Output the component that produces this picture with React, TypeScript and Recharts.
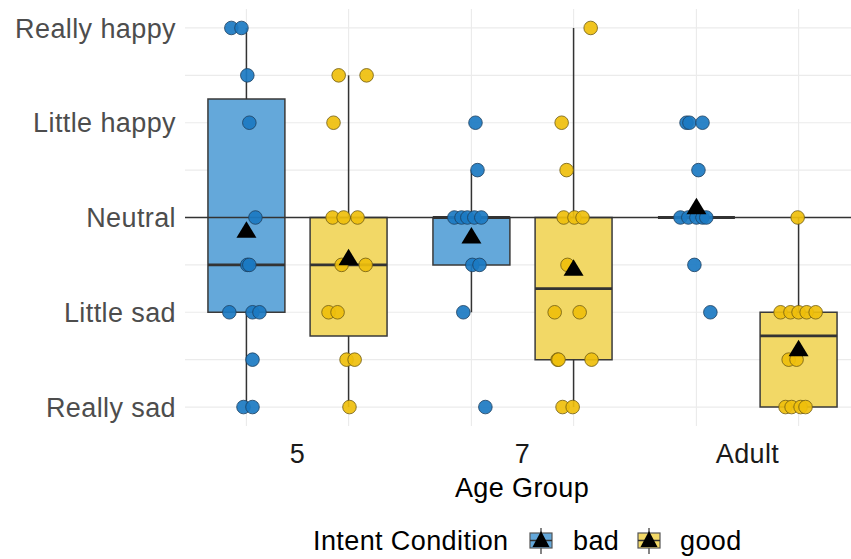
import { ComposedChart, Scatter, XAxis, YAxis, CartesianGrid, ReferenceArea, ReferenceLine } from 'recharts'

const AGE_GROUPS = ['5', '7', 'Adult']
const MOOD_LABELS = ['Really sad', 'Little sad', 'Neutral', 'Little happy', 'Really happy']
const MOOD_TICKS = [1, 2, 3, 4, 5]
const GRID_LEVELS = [1, 1.5, 2, 2.5, 3, 3.5, 4, 4.5, 5]

// ratings per age group + the horizontal jitter seen in the plot
const badScores = [
  [5, 5, 4.5, 4, 3, 2.5, 2.5, 2, 2, 2, 1.5, 1, 1],
  [4, 3.5, 3, 3, 3, 3, 3, 2.5, 2.5, 2, 1],
  [4, 4, 4, 3.5, 3, 3, 3, 3, 3, 2.5, 2],
]
const badJitter = [
  [-0.067, -0.022, 0.004, 0.013, 0.04, 0.004, 0.013, -0.076, 0.027, 0.058, 0.027, -0.013, 0.027],
  [0.018, 0.027, -0.076, -0.044, -0.018, 0.013, 0.044, 0.004, 0.036, -0.036, 0.062],
  [-0.044, -0.031, 0.027, 0.009, -0.071, -0.036, 0, 0.027, 0.044, -0.009, 0.062],
]
const goodScores = [
  [4.5, 4.5, 4, 3, 3, 3, 2.5, 2.5, 2, 2, 1.5, 1.5, 1],
  [5, 4, 3.5, 3, 3, 3, 2.5, 2, 2, 1.5, 1.5, 1.5, 1, 1],
  [3, 2, 2, 2, 2, 2, 1.5, 1.5, 1, 1, 1, 1],
]
const goodJitter = [
  [-0.044, 0.08, -0.067, -0.071, -0.022, 0.04, -0.031, 0.076, -0.089, -0.049, -0.009, 0.027, 0.004],
  [0.076, -0.053, -0.031, -0.044, 0.004, 0.04, -0.027, -0.084, 0.027, -0.071, -0.067, 0.08, -0.049, -0.004],
  [-0.004, -0.08, -0.036, 0, 0.036, 0.076, -0.044, -0.009, -0.058, -0.031, 0.009, 0.031],
]

// box stats
const badQ1 = [2, 2.5, 3]
const badMedian = [2.5, 3, 3]
const badQ3 = [4.25, 3, 3]
const badLow = [1, 2, 3]
const badHigh = [5, 3.5, 3]
const badMean = [2.87, 2.81, 3.12]

const goodQ1 = [1.75, 1.5, 1]
const goodMedian = [2.5, 2.25, 1.75]
const goodQ3 = [3, 3, 2]
const goodLow = [1, 1, 1]
const goodHigh = [4.5, 5, 3]
const goodMean = [2.58, 2.47, 1.62]

const DODGE = 0.227
const HALF_BOX = 0.171
const FONT = '"Liberation Sans", Arial, sans-serif'
const FS = 27
const LS = 0.4

const CONDITIONS = [
  { name: 'bad', side: -1, scores: badScores, jitter: badJitter, q1: badQ1, med: badMedian, q3: badQ3, lo: badLow, hi: badHigh, mean: badMean,
    box: '#64a8da', point: '#1b79c2', pointStroke: '#1d3f5e' },
  { name: 'good', side: 1, scores: goodScores, jitter: goodJitter, q1: goodQ1, med: goodMedian, q3: goodQ3, lo: goodLow, hi: goodHigh, mean: goodMean,
    box: '#f2d866', point: '#efbf0c', pointStroke: '#6e5a12' },
]

const centerX = (g: number, side: number) => g + 1 + side * DODGE
const boxCenters = CONDITIONS.flatMap(c => AGE_GROUPS.map((_, g) => centerX(g, c.side))).sort((a, b) => a - b)

function Dot(props: any) {
  const { cx, cy, fill, stroke } = props
  if (cx == null || cy == null) return null
  return <circle cx={cx} cy={cy} r={6.8} fill={fill} stroke={stroke} strokeWidth={0.8} fillOpacity={0.92} />
}

function MeanTriangle(props: any) {
  const { cx, cy } = props
  if (cx == null || cy == null) return null
  return <polygon points={`${cx},${cy - 8.5} ${cx - 10},${cy + 8} ${cx + 10},${cy + 8}`} fill="#000" />
}

function LegendKey({ color }: { color: string }) {
  return (
    <svg width={24} height={26} style={{ display: 'block' }}>
      <line x1={12} y1={0} x2={12} y2={26} stroke="#333" strokeWidth={1.2} />
      <rect x={1} y={5} width={22} height={15} fill={color} stroke="#555" strokeWidth={1.2} />
      <line x1={1} y1={12.5} x2={23} y2={12.5} stroke="#333" strokeWidth={1.5} />
      <polygon points="12,3 3.5,19 20.5,19" fill="#000" />
    </svg>
  )
}

const legendText = { position: 'absolute' as const, top: 0, lineHeight: '30px', letterSpacing: LS }

export default function App() {
  return (
    <div style={{ position: 'absolute', left: 0, top: 0, width: 851, height: 559, background: '#fff', fontFamily: FONT }}>
      <ComposedChart width={851} height={559} margin={{ top: 9, right: 0, bottom: 53, left: 0 }}>
        <CartesianGrid stroke="#ebebeb" strokeWidth={1.2} horizontalValues={GRID_LEVELS} verticalValues={boxCenters} />
        <XAxis type="number" dataKey="x" domain={[0.5, 3.46]} allowDataOverflow ticks={[1, 2, 3]}
          tickFormatter={v => AGE_GROUPS[v - 1]} tickLine={false} axisLine={false} tickSize={6} tickMargin={12} height={80}
          tick={{ fontSize: FS, fill: '#1a1a1a', fontFamily: FONT, letterSpacing: LS }}
          label={{ value: 'Age Group', position: 'insideBottom', offset: 9, fontSize: FS, fill: '#000', fontFamily: FONT, dx: 4, letterSpacing: LS }} />
        <YAxis type="number" dataKey="y" domain={[0.8, 5.2]} allowDataOverflow ticks={MOOD_TICKS}
          tickFormatter={v => MOOD_LABELS[v - 1]} tickLine={false} axisLine={false} tickSize={6} tickMargin={3} width={185}
          tick={{ fontSize: FS, fill: '#4d4d4d', fontFamily: FONT, letterSpacing: LS }} />

        {/* boxes */}
        {CONDITIONS.flatMap(c => AGE_GROUPS.map((_, g) => c.q3[g] > c.q1[g] ? (
          <ReferenceArea key={`box-${c.name}-${g}`} x1={centerX(g, c.side) - HALF_BOX} x2={centerX(g, c.side) + HALF_BOX}
            y1={c.q1[g]} y2={c.q3[g]} fill={c.box} fillOpacity={1} stroke="#3a3a3a" strokeWidth={1.5} strokeOpacity={1} />
        ) : null))}
        {/* whiskers */}
        {CONDITIONS.flatMap(c => AGE_GROUPS.flatMap((_, g) => [
          c.hi[g] > c.q3[g] && <ReferenceLine key={`wh-${c.name}-${g}`} segment={[{ x: centerX(g, c.side), y: c.q3[g] }, { x: centerX(g, c.side), y: c.hi[g] }]} stroke="#333" strokeWidth={1.5} />,
          c.lo[g] < c.q1[g] && <ReferenceLine key={`wl-${c.name}-${g}`} segment={[{ x: centerX(g, c.side), y: c.lo[g] }, { x: centerX(g, c.side), y: c.q1[g] }]} stroke="#333" strokeWidth={1.5} />,
        ]))}
        {/* medians */}
        {CONDITIONS.flatMap(c => AGE_GROUPS.map((_, g) => (
          <ReferenceLine key={`med-${c.name}-${g}`} segment={[{ x: centerX(g, c.side) - HALF_BOX, y: c.med[g] }, { x: centerX(g, c.side) + HALF_BOX, y: c.med[g] }]}
            stroke="#333" strokeWidth={2.8} />
        )))}
        <ReferenceLine y={3} stroke="#333" strokeWidth={1.5} />

        {CONDITIONS.map(c => (
          <Scatter key={`pts-${c.name}`} name={c.name} isAnimationActive={false}
            data={c.scores.flatMap((vals, g) => vals.map((y, i) => ({ x: centerX(g, c.side) + c.jitter[g][i], y })))}
            fill={c.point} stroke={c.pointStroke} shape={<Dot />} />
        ))}
        {CONDITIONS.map(c => (
          <Scatter key={`mean-${c.name}`} isAnimationActive={false}
            data={c.mean.map((y, g) => ({ x: centerX(g, c.side), y }))} shape={<MeanTriangle />} />
        ))}
      </ComposedChart>

      {/* legend */}
      <div style={{ position: 'absolute', left: 0, top: 526, width: 851, height: 30, fontSize: FS, color: '#000' }}>
        <span style={{ ...legendText, left: 313 }}>Intent Condition</span>
        <span style={{ position: 'absolute', left: 529, top: 2 }}><LegendKey color="#64a8da" /></span>
        <span style={{ ...legendText, left: 573 }}>bad</span>
        <span style={{ position: 'absolute', left: 637, top: 2 }}><LegendKey color="#f2d866" /></span>
        <span style={{ ...legendText, left: 680 }}>good</span>
      </div>
    </div>
  )
}
